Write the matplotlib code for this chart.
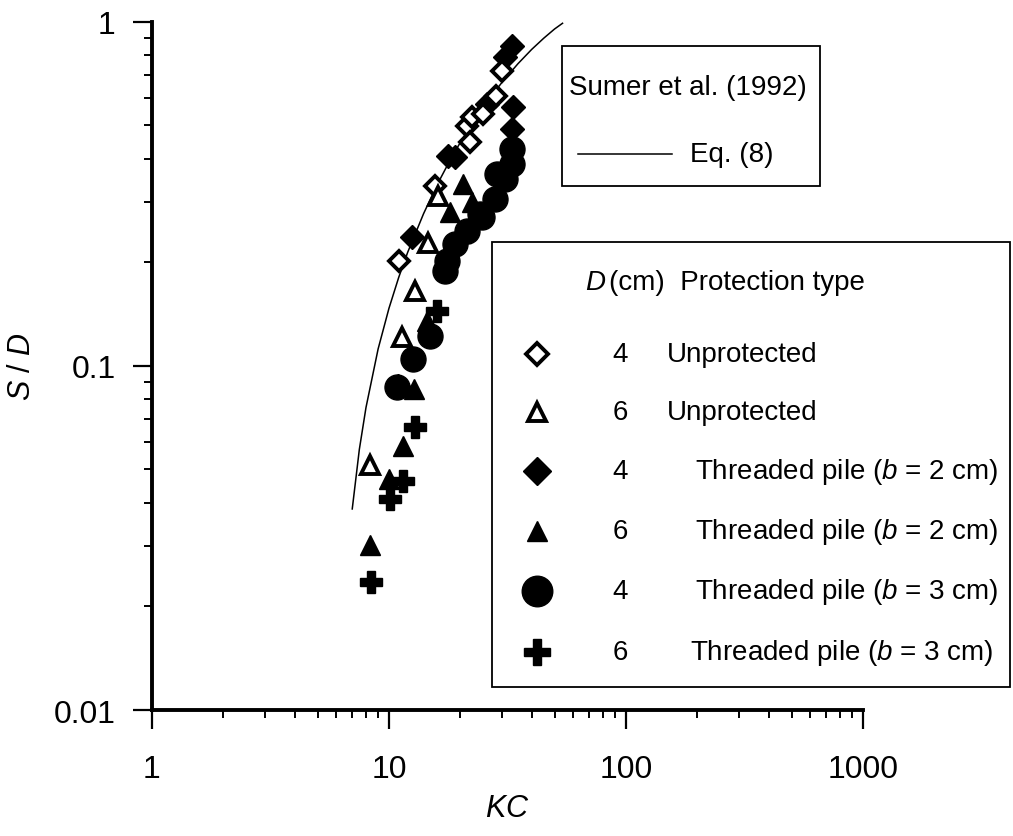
import matplotlib
matplotlib.use('Agg')
import matplotlib.pyplot as plt
from matplotlib.patches import Rectangle
from matplotlib.lines import Line2D

plt.rcParams['font.family'] = ['Liberation Sans', 'DejaVu Sans']
plt.rcParams['mathtext.fontset'] = 'custom'
plt.rcParams['mathtext.rm'] = 'Liberation Sans'
plt.rcParams['mathtext.it'] = 'Liberation Sans:italic'

# ---------------- data ----------------
# Eq. (8), Sumer et al. (1992) curve
kc_eq = [7.0, 7.5, 8.0, 9.0, 10.0, 11.0, 12.0, 14.0, 16.0, 18.0, 20.0, 23.0,
         26.0, 30.0, 35.0, 40.0, 45.0, 50.0, 54.0]
sd_eq = [0.0384, 0.0572, 0.0757, 0.112, 0.147, 0.181, 0.214, 0.277, 0.337,
         0.393, 0.446, 0.519, 0.587, 0.667, 0.755, 0.831, 0.896, 0.953, 0.99]

# D = 4 cm, unprotected (open diamonds)
kc_u4 = [11.0, 15.6, 21.3, 22.0, 22.4, 24.9, 28.2, 30.0]
sd_u4 = [0.202, 0.334, 0.498, 0.448, 0.529, 0.540, 0.609, 0.719]

# D = 6 cm, unprotected (open triangles)
kc_u6 = [8.32, 11.3, 12.9, 14.6, 16.1]
sd_u6 = [0.0516, 0.121, 0.165, 0.228, 0.312]

# D = 4 cm, threaded pile b = 2 cm (filled diamonds)
kc_t4b2 = [10.9, 12.5, 17.7, 19.0, 25.9, 30.9, 33.0, 33.4, 33.0]
sd_t4b2 = [0.0875, 0.237, 0.408, 0.404, 0.577, 0.790, 0.849, 0.565, 0.488]

# D = 6 cm, threaded pile b = 2 cm (filled triangles)
kc_t6b2 = [8.32, 10.0, 11.5, 12.8, 14.5, 18.1, 20.5, 22.5]
sd_t6b2 = [0.0301, 0.047, 0.0586, 0.0859, 0.135, 0.280, 0.338, 0.300]

# D = 4 cm, threaded pile b = 3 cm (filled circles)
kc_t4b3 = [10.8, 12.6, 14.9, 17.2, 17.6, 19.0, 21.3, 24.2, 24.6, 27.9, 28.6,
           30.9, 33.0, 33.0]
sd_t4b3 = [0.087, 0.105, 0.122, 0.189, 0.202, 0.226, 0.247, 0.276, 0.271,
           0.306, 0.361, 0.349, 0.386, 0.427]

# D = 6 cm, threaded pile b = 3 cm (crosses)
kc_t6b3 = [8.40, 10.1, 11.45, 12.9, 15.9, 19.9]
sd_t6b3 = [0.0236, 0.0411, 0.0464, 0.0666, 0.144, 0.234]

x_ticks = [1, 10, 100, 1000]
x_labels = ['1', '10', '100', '1000']
y_ticks = [0.01, 0.1, 1]
y_labels = ['0.01', '0.1', '1']

legend_d = ['4', '6', '4', '6', '4', '6']
legend_txt = ['Unprotected', 'Unprotected',
              r'Threaded pile ($b$ = 2 cm)', r'Threaded pile ($b$ = 2 cm)',
              r'Threaded pile ($b$ = 3 cm)', r'Threaded pile ($b$ = 3 cm)']

# ---------------- figure ----------------
fig = plt.figure(figsize=(10.13, 8.37), dpi=100)
ax = fig.add_axes([0.1500, 0.1505, 0.7019, 0.8223])
ax.set_xscale('log')
ax.set_yscale('log')
ax.set_xlim(1, 1000)
ax.set_ylim(0.01, 1)
for s in ['top', 'right']:
    ax.spines[s].set_visible(False)
for s in ['left', 'bottom']:
    ax.spines[s].set_linewidth(2.8)

ax.set_xticks(x_ticks)
ax.set_xticklabels(x_labels)
ax.set_yticks(y_ticks)
ax.set_yticklabels(y_labels)
ax.tick_params(which='major', direction='out', length=14, width=1.6,
               labelsize=23, pad=12)
ax.tick_params(axis='x', which='major', pad=18)
ax.tick_params(which='minor', direction='out', length=6, width=1.4)

ax.set_xlabel(r'$KC$', fontsize=22, labelpad=6)
ax.set_ylabel(r'$S$ / $D$', fontsize=22, labelpad=12)

ax.plot(kc_eq, sd_eq, color='black', lw=1.1, zorder=2)

open_kw = dict(linestyle='none', mfc='white', mec='black', mew=2.8, zorder=4)
fill_kw = dict(linestyle='none', color='black', zorder=3)

ax.plot(kc_t4b3, sd_t4b3, marker='o', ms=18, **fill_kw)
ax.plot(kc_t4b2, sd_t4b2, marker='D', ms=12, **fill_kw)
ax.plot(kc_t6b2, sd_t6b2, marker='^', ms=14, **fill_kw)
ax.plot(kc_t6b3, sd_t6b3, marker='P', ms=16, **fill_kw)
ax.plot(kc_u4, sd_u4, marker='D', ms=10, **open_kw)
ax.plot(kc_u6, sd_u6, marker='^', ms=13, **open_kw)

# ---------------- legends (pixel overlay) ----------------
lax = fig.add_axes([0, 0, 1, 1])
lax.set_xlim(0, 1013)
lax.set_ylim(837, 0)
lax.axis('off')

lax.add_patch(Rectangle((562, 47), 258, 140, fill=False, lw=1.3, ec='black'))
lax.text(569, 88, 'Sumer et al. (1992)', fontsize=20, va='center', ha='left')
lax.add_line(Line2D([578, 672], [155, 155], color='black', lw=1.1))
lax.text(690, 155, 'Eq. (8)', fontsize=20, va='center', ha='left')

lax.add_patch(Rectangle((492, 243), 518, 445, fill=False, lw=1.3, ec='black'))
lax.text(585, 283, 'D', fontsize=20, style='italic', va='center', ha='left')
lax.text(609, 283, '(cm)  Protection type', fontsize=20, va='center', ha='left')

row_y = [355, 413, 472, 532, 592, 653]
txt_x = [667, 667, 695, 695, 695, 690]
styles = [
    dict(marker='D', ms=11, mfc='white', mec='black', mew=2.8),
    dict(marker='^', ms=13, mfc='white', mec='black', mew=2.8),
    dict(marker='D', ms=14, color='black'),
    dict(marker='^', ms=15, color='black'),
    dict(marker='o', ms=22, color='black'),
    dict(marker='P', ms=19, color='black'),
]
for y, d, t, tx, st in zip(row_y, legend_d, legend_txt, txt_x, styles):
    lax.add_line(Line2D([537], [y], linestyle='none', **st))
    lax.text(620, y, d, fontsize=20, va='center', ha='center')
    lax.text(tx, y, t, fontsize=20, va='center', ha='left')

fig.savefig('out.png', dpi=100)
